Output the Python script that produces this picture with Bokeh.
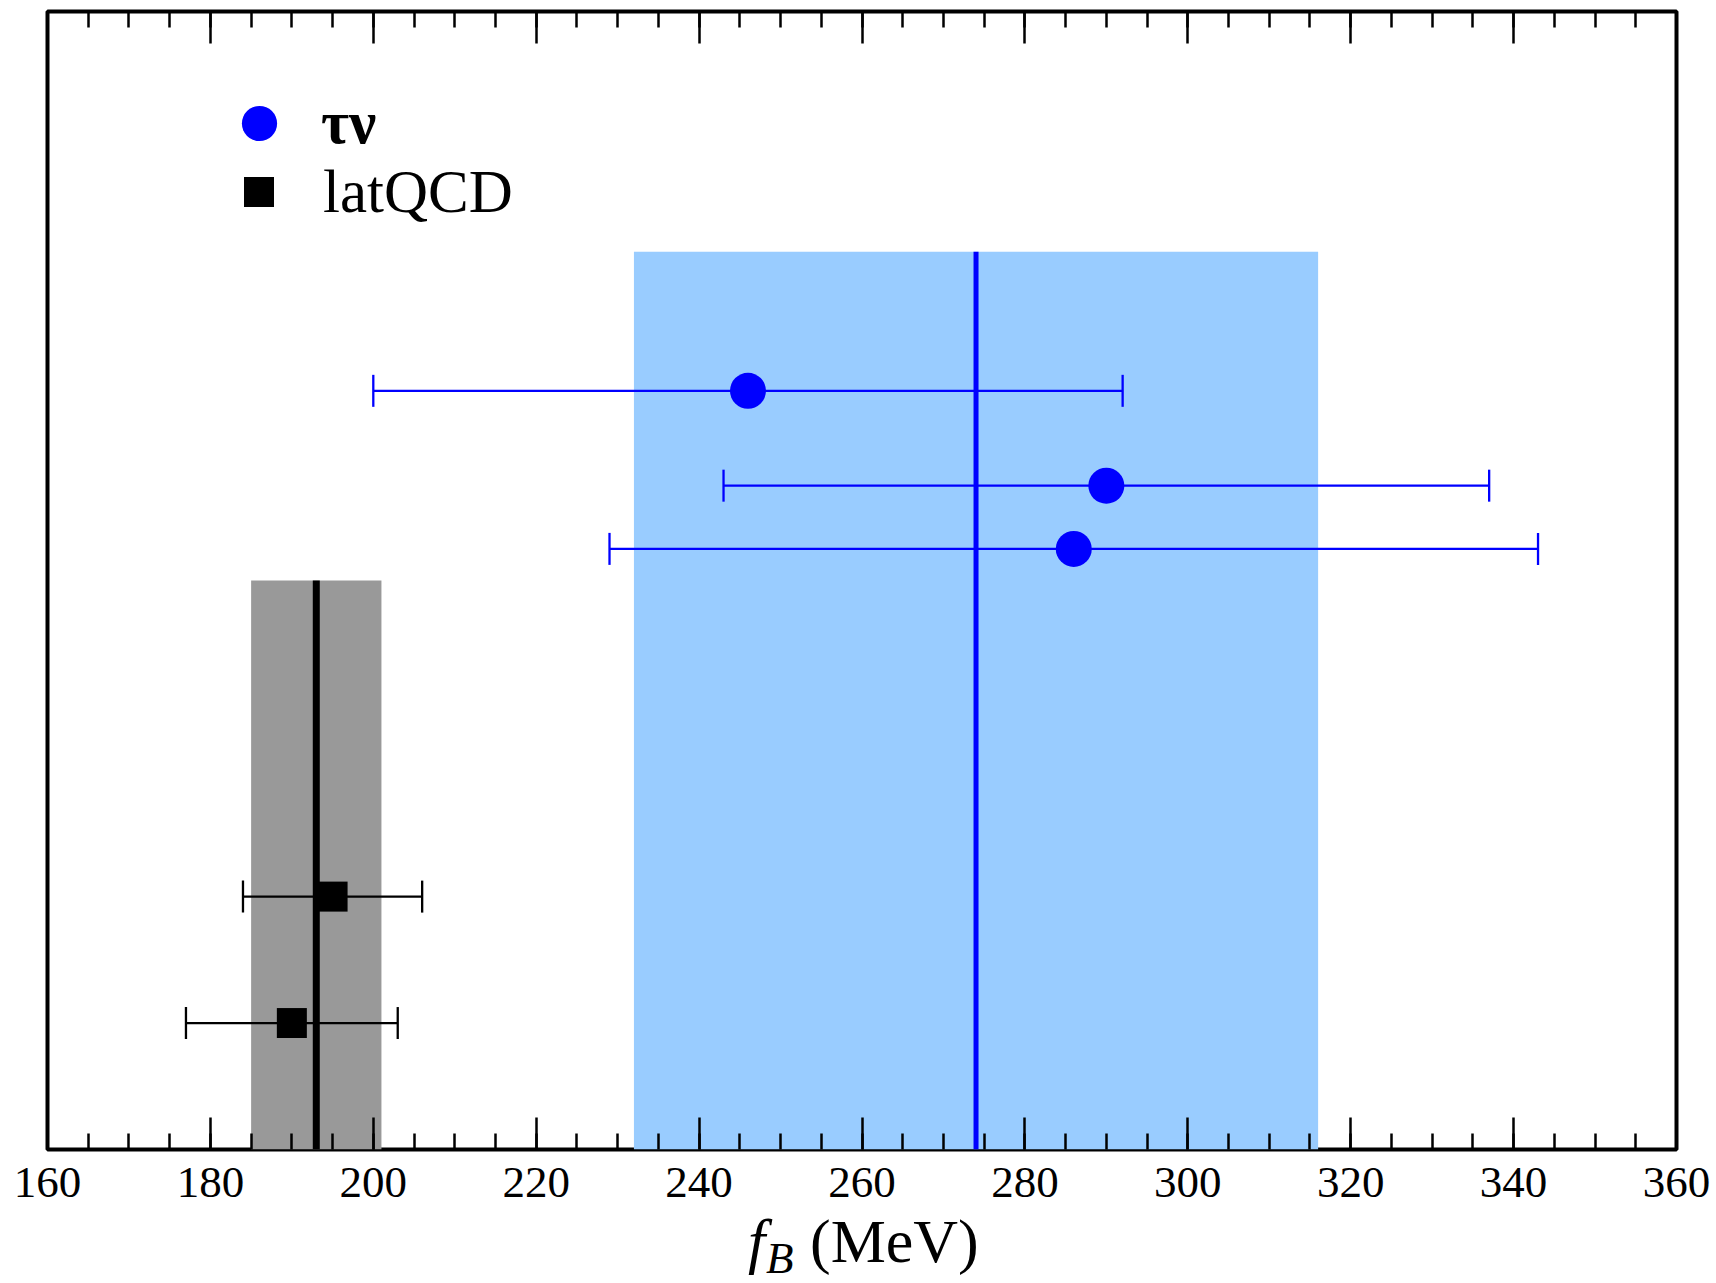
import numpy as np
from bokeh.plotting import figure
from bokeh.layouts import column
from bokeh.models import (ColumnDataSource, LinearAxis, FixedTicker, Range1d,
                          Legend, LegendItem, Div)
from bokeh.embed import file_html
from bokeh.resources import INLINE

# ---------------- data ----------------
tau_fb = [246, 290, 286]
tau_lo = [200, 243, 229]
tau_hi = [292, 337, 343]
tau_row = [6.0, 5.25, 4.75]

lat_fb = [195, 190]
lat_lo = [184, 177]
lat_hi = [206, 203]
lat_row = [2.0, 1.0]

tau_avg = [274]
tau_avg_err = [42]
tau_band_top = [7.1]

lat_avg = [193]
lat_avg_err = [8]
lat_band_top = [4.5]

x_major = list(range(160, 361, 20))
x_minor = list(range(160, 361, 5))

legend_labels = ["τν", "latQCD"]
x_title = ["f", "B", "(MeV)"]

FONT = "Liberation Serif"

# ---------------- figure ----------------
p = figure(width=1716, height=1222, x_range=Range1d(160, 360), y_range=Range1d(0, 9),
           output_backend="svg", toolbar_location=None,
           x_axis_location="below", y_axis_location=None,
           min_border_left=47, min_border_right=40, min_border_top=11, min_border_bottom=73)
p.grid.visible = False
p.outline_line_color = "black"
p.outline_line_width = 4
p.outline_line_alpha = 1.0
p.background_fill_color = "white"
p.border_fill_color = "white"

# bands
band_src = ColumnDataSource(dict(
    left=[tau_avg[0] - tau_avg_err[0], lat_avg[0] - lat_avg_err[0]],
    right=[tau_avg[0] + tau_avg_err[0], lat_avg[0] + lat_avg_err[0]],
    bottom=[0, 0],
    top=[tau_band_top[0], lat_band_top[0]],
    color=["#99CCFF", "#999999"],
))
p.quad(left="left", right="right", bottom="bottom", top="top", fill_color="color",
       line_color=None, source=band_src)

# central lines
p.segment(x0=tau_avg, x1=tau_avg, y0=[0], y1=tau_band_top, line_color="#0000FF", line_width=5)
p.segment(x0=lat_avg, x1=lat_avg, y0=[0], y1=lat_band_top, line_color="black", line_width=7)

# error bars
tau_src = ColumnDataSource(dict(x=tau_fb, lo=tau_lo, hi=tau_hi, y=tau_row))
lat_src = ColumnDataSource(dict(x=lat_fb, lo=lat_lo, hi=lat_hi, y=lat_row))

for src, col in ((tau_src, "#0000FF"), (lat_src, "black")):
    p.segment(x0="lo", x1="hi", y0="y", y1="y", line_color=col, line_width=2.3, source=src)
    p.scatter(x="lo", y="y", marker="dash", angle=np.pi / 2, size=32, line_color=col,
              line_width=2.3, source=src)
    p.scatter(x="hi", y="y", marker="dash", angle=np.pi / 2, size=32, line_color=col,
              line_width=2.3, source=src)

# markers
r_tau = p.scatter(x="x", y="y", marker="circle", size=36, fill_color="#0000FF",
                  line_color=None, source=tau_src)
r_lat = p.scatter(x="x", y="y", marker="square", size=30, fill_color="black",
                  line_color=None, source=lat_src)

# ---------------- axes ----------------
def style_ticks(ax):
    ax.axis_line_color = None
    ax.major_tick_in = 32
    ax.major_tick_out = 0
    ax.minor_tick_in = 16
    ax.minor_tick_out = 0
    ax.major_tick_line_width = 2.5
    ax.minor_tick_line_width = 2.5
    ax.major_tick_line_color = "black"
    ax.minor_tick_line_color = "black"

xa = p.xaxis[0]
xa.ticker = FixedTicker(ticks=x_major, minor_ticks=x_minor)
style_ticks(xa)
xa.major_label_text_font = FONT
xa.major_label_text_font_size = "45px"
xa.major_label_text_color = "black"
xa.major_label_standoff = 18

top = LinearAxis(ticker=FixedTicker(ticks=x_major, minor_ticks=x_minor))
style_ticks(top)
top.major_label_text_color = None
top.major_label_standoff = 0
p.add_layout(top, "above")

# ---------------- legend (one per entry so marker sizes can differ) ----------------
leg1 = Legend(items=[LegendItem(label=legend_labels[0], renderers=[r_tau])],
              location=(168, 982))
leg1.glyph_width = 88
leg1.glyph_height = 88
leg1.label_standoff = 18
leg1.label_text_font_style = "bold"

leg2 = Legend(items=[LegendItem(label=legend_labels[1], renderers=[r_lat])],
              location=(174, 920))
leg2.glyph_width = 75
leg2.glyph_height = 75
leg2.label_standoff = 27

for lg in (leg1, leg2):
    lg.spacing = 0
    lg.padding = 0
    lg.margin = 0
    lg.label_text_font = FONT
    lg.label_text_font_size = "61px"
    lg.label_text_color = "black"
    lg.border_line_color = None
    lg.background_fill_alpha = 0
    p.add_layout(lg)

# ---------------- axis title (real HTML text) ----------------
title_html = (
    '<div style="position:relative;width:1716px;height:61px;overflow:visible;'
    'font-family:\'Liberation Serif\';color:black;">'
    '<span style="position:absolute;left:748px;top:-12px;font-size:62px;line-height:62px;'
    'font-style:italic;white-space:nowrap;">%s</span>'
    '<span style="position:absolute;left:766px;top:16px;font-size:45px;line-height:40px;'
    'font-style:italic;white-space:nowrap;">%s</span>'
    '<span style="position:absolute;left:810px;top:-12px;font-size:62px;line-height:62px;'
    'white-space:nowrap;">%s</span>'
    '</div>'
) % tuple(x_title)
title_div = Div(text=title_html, width=1716, height=61, margin=0,
                styles={"overflow": "visible"})

layout = column(p, title_div, spacing=0)

open("out.html", "w").write(file_html(layout, INLINE))
